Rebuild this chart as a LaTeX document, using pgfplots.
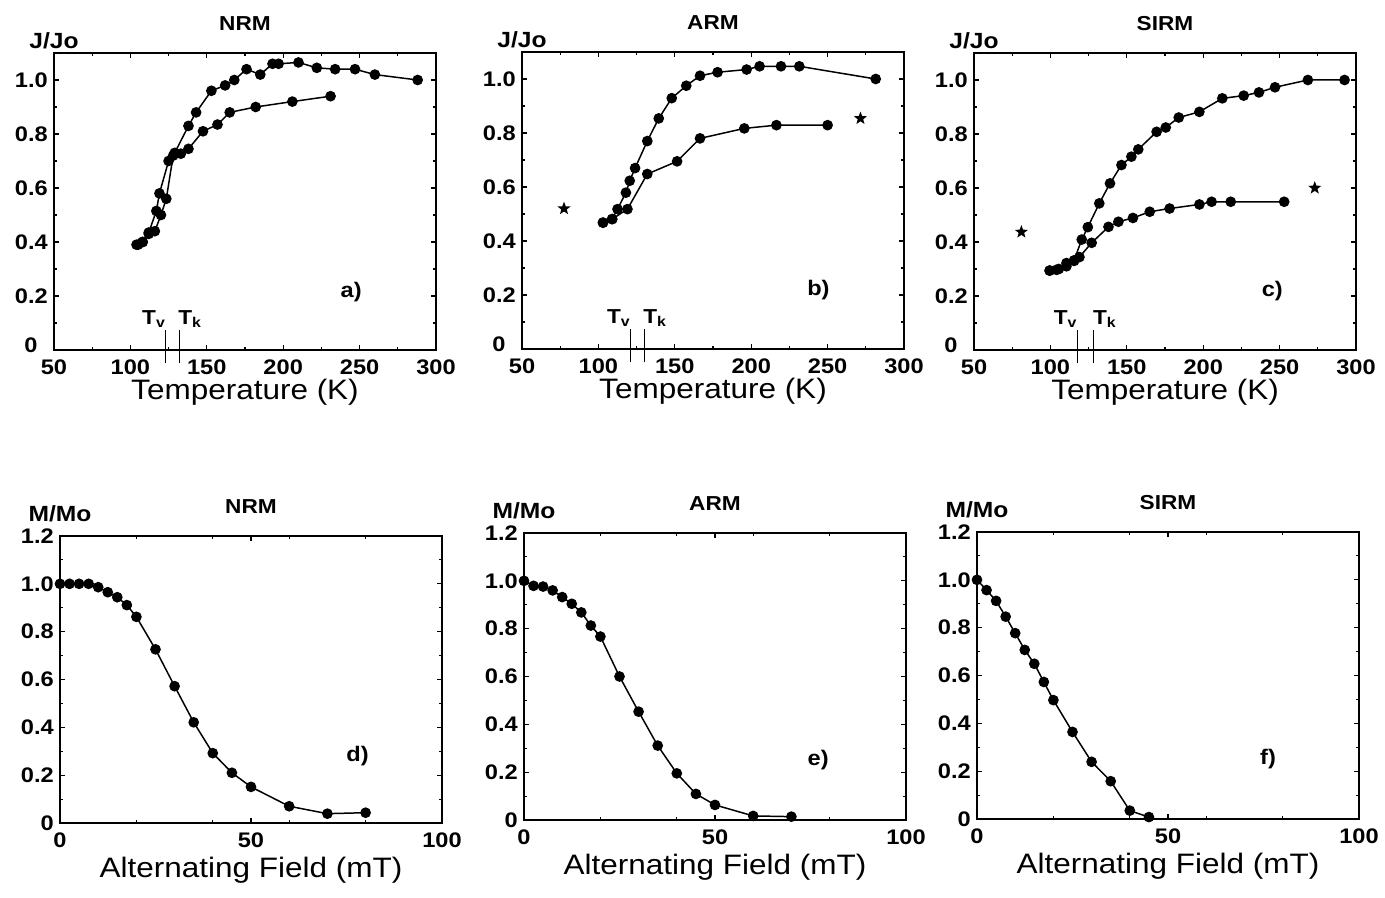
\documentclass[border=0pt]{standalone}
\usepackage{fontspec}
\setmainfont{Liberation Sans}[FakeStretch=1.12]
\usepackage{pgfplots}
\pgfplotsset{compat=1.18}

% filled five-pointed star mark
\pgfdeclareplotmark{fstar}{%
  \pgfpathmoveto{\pgfpointpolar{90}{\pgfplotmarksize}}%
  \pgfpathlineto{\pgfpointscale{0.42}{\pgfpointpolar{126}{\pgfplotmarksize}}}%
  \pgfpathlineto{\pgfpointpolar{162}{\pgfplotmarksize}}%
  \pgfpathlineto{\pgfpointscale{0.42}{\pgfpointpolar{198}{\pgfplotmarksize}}}%
  \pgfpathlineto{\pgfpointpolar{234}{\pgfplotmarksize}}%
  \pgfpathlineto{\pgfpointscale{0.42}{\pgfpointpolar{270}{\pgfplotmarksize}}}%
  \pgfpathlineto{\pgfpointpolar{306}{\pgfplotmarksize}}%
  \pgfpathlineto{\pgfpointscale{0.42}{\pgfpointpolar{342}{\pgfplotmarksize}}}%
  \pgfpathlineto{\pgfpointpolar{18}{\pgfplotmarksize}}%
  \pgfpathlineto{\pgfpointscale{0.42}{\pgfpointpolar{54}{\pgfplotmarksize}}}%
  \pgfpathclose
  \pgfusepathqfillstroke
}

\pgfplotsset{
  panel/.style={
    scale only axis, width=7.64cm, clip=false,
    axis line style={line width=1.1pt},
    tick align=inside, major tick length=0.1cm, minor tick length=0.06cm,
    tick style={line width=0.6pt, black},
    /pgf/number format/assume math mode=true,
    tick label style={font=\fontsize{12}{14}\selectfont\bfseries},
    xticklabel style={yshift=-0.08cm},
    label style={font=\fontsize{16}{18}\selectfont},
    cycle list={{black}},
    every axis plot/.append style={black, line width=0.85pt, mark=*, mark size=2.6pt, mark options={fill=black, solid}},
  },
  tpanel/.style={panel, height=5.94cm,
    xmin=50, xmax=300, ymin=0, ymax=1.1,
    xtick={50,100,150,200,250,300}, minor x tick num=1,
    ytick={0,0.2,0.4,0.6,0.8,1.0}, yticklabels={,0.2,0.4,0.6,0.8,1.0},
    minor y tick num=1,
    xlabel={Temperature (K)},
    xlabel style={at={(axis description cs:0.5,0)}, anchor=base, yshift=-1.0cm}},
  fpanel/.style={panel, height=5.74cm,
    xmin=0, xmax=100, ymin=0, ymax=1.2,
    xtick={0,50,100}, minor xtick={20,40,60,80},
    ytick={0,0.2,0.4,0.6,0.8,1.0,1.2}, yticklabels={0,0.2,0.4,0.6,0.8,1.0,1.2},
    minor y tick num=1,
    xlabel={Alternating Field (mT)},
    xlabel style={at={(axis description cs:0.5,0)}, anchor=base, yshift=-1.1cm}},
}
\newcommand{\ttl}[1]{\node[anchor=base, font=\fontsize{11.5}{13}\selectfont\bfseries] at (rel axis cs:0.5,1) [yshift=0.44cm] {#1};}
\newcommand{\ylab}[2]{\node[anchor=base, font=\fontsize{12.5}{13}\selectfont\bfseries] at (rel axis cs:0.0,1) [yshift=#2] {#1};}
\newcommand{\plab}[3]{\node[font=\fontsize{12}{13}\selectfont\bfseries] at (rel axis cs:#1,#2) {#3};}
\newcommand{\zerolab}{\node[font=\fontsize{12}{14}\selectfont\bfseries] at (rel axis cs:0,0) [xshift=-0.46cm, yshift=0.1cm] {0};}
\newcommand{\tvtk}[2]{%
  \addplot[mark=none, line width=0.6pt] coordinates {(#1,-0.05) (#1,0.075)};
  \addplot[mark=none, line width=0.6pt] coordinates {(#2,-0.05) (#2,0.075)};
  \node[anchor=south east, inner sep=1pt, font=\fontsize{11.5}{12}\selectfont\bfseries] at (axis cs:#1+1.5,0.075) {T\textsubscript{v}};
  \node[anchor=south west, inner sep=1pt, font=\fontsize{11.5}{12}\selectfont\bfseries] at (axis cs:#2-2,0.075) {T\textsubscript{k}};
}

\begin{document}
\begin{tikzpicture}
\useasboundingbox (0,0) rectangle (27.7,17.96);

% a) NRM, thermal
\begin{axis}[tpanel, at={(1.08cm,10.96cm)}, anchor=south west]
\addplot coordinates {
  (104,0.39) (108,0.40) (112,0.435) (117,0.515) (119,0.58) (125,0.70) (129,0.73)
  (138,0.83) (143,0.88) (153,0.96) (162,0.98) (168,1.00) (176,1.04) (185,1.02)
  (193,1.06) (197,1.06) (210,1.065) (222,1.045) (234,1.04) (247,1.04) (260,1.02) (288,1.00)
};
\addplot coordinates {
  (105,0.39) (108,0.40) (112,0.43) (116,0.44) (120,0.50) (123.5,0.56) (128,0.72)
  (133,0.727) (138,0.745) (147.5,0.81) (157,0.835) (165,0.88) (182,0.90) (206,0.92) (231,0.94)
};
\tvtk{123}{132}
\ttl{NRM}\ylab{J/Jo}{0.08cm}\plab{0.778}{0.195}{a)}\zerolab
\end{axis}

% b) ARM, thermal
\begin{axis}[tpanel, at={(10.44cm,10.98cm)}, anchor=south west]
\addplot coordinates {
  (103,0.468) (109,0.481) (112.5,0.518) (118,0.579) (120.5,0.623) (124,0.67)
  (132,0.77) (139.5,0.854) (148,0.929) (157.5,0.975) (166.5,1.012) (178,1.025)
  (197,1.035) (205.5,1.047) (219.5,1.047) (231.5,1.047) (281.5,1.00)
};
\addplot coordinates {
  (103,0.468) (109,0.481) (119,0.518) (132,0.648) (151.5,0.695) (166.5,0.78)
  (195.5,0.817) (216.5,0.829) (250,0.829)
};
\addplot[only marks, mark=fstar, mark size=2.7pt] coordinates {(77.5,0.52) (271.5,0.854)};
\tvtk{121}{130}
\ttl{ARM}\ylab{J/Jo}{0.08cm}\plab{0.776}{0.20}{b)}\zerolab
\end{axis}

% c) SIRM, thermal
\begin{axis}[tpanel, at={(19.48cm,10.96cm)}, anchor=south west]
\addplot coordinates {
  (99.5,0.294) (104,0.297) (110.5,0.322) (115.5,0.332) (120.5,0.409) (124.5,0.455)
  (132,0.543) (139,0.617) (146.5,0.685) (153,0.716) (157.5,0.743) (169.5,0.808)
  (175.5,0.824) (184,0.861) (197.5,0.882) (212.5,0.932) (226.5,0.942) (236.5,0.954)
  (247,0.973) (268.5,1.00) (292.5,1.00)
};
\addplot coordinates {
  (99.5,0.294) (105.5,0.30) (110.5,0.31) (115.5,0.33) (119,0.344) (127,0.397)
  (138,0.456) (144.5,0.475) (154,0.489) (165,0.512) (178,0.524) (197.5,0.539)
  (205.5,0.549) (218,0.549) (253,0.549)
};
\addplot[only marks, mark=fstar, mark size=2.7pt] coordinates {(81,0.437) (273,0.60)};
\tvtk{117.5}{128.5}
\ttl{SIRM}\ylab{J/Jo}{0.08cm}\plab{0.781}{0.20}{c)}\zerolab
\end{axis}

% d) NRM, AF
\begin{axis}[fpanel, at={(1.2cm,1.5cm)}, anchor=south west]
\addplot coordinates {
  (0,1.00) (2.5,1.00) (5,1.00) (7.5,1.00) (10,0.986) (12.5,0.965) (15,0.944)
  (17.5,0.911) (20,0.862) (25,0.726) (30,0.572) (35,0.421) (40,0.292) (45,0.21)
  (50,0.151) (60,0.07) (70,0.039) (80,0.043)
};
\ttl{NRM}\ylab{M/Mo}{0.29cm}\plab{0.779}{0.234}{d)}
\end{axis}

% e) ARM, AF
\begin{axis}[fpanel, at={(10.48cm,1.56cm)}, anchor=south west]
\addplot coordinates {
  (0,1.00) (2.5,0.979) (5,0.976) (7.5,0.96) (10,0.932) (12.5,0.904) (15,0.868)
  (17.5,0.813) (20,0.767) (25,0.60) (30,0.453) (35,0.311) (40,0.195) (45,0.109)
  (50,0.063) (60,0.017) (70,0.014)
};
\ttl{ARM}\ylab{M/Mo}{0.29cm}\plab{0.77}{0.209}{e)}
\end{axis}

% f) SIRM, AF
\begin{axis}[fpanel, at={(19.54cm,1.58cm)}, anchor=south west]
\addplot coordinates {
  (0,1.00) (2.5,0.957) (5,0.912) (7.5,0.846) (10,0.777) (12.5,0.707) (15,0.649)
  (17.5,0.573) (20,0.497) (25,0.364) (30,0.239) (35,0.158) (40,0.035) (45,0.008)
};
\ttl{SIRM}\ylab{M/Mo}{0.29cm}\plab{0.762}{0.209}{f)}
\end{axis}
\end{tikzpicture}
\end{document}
